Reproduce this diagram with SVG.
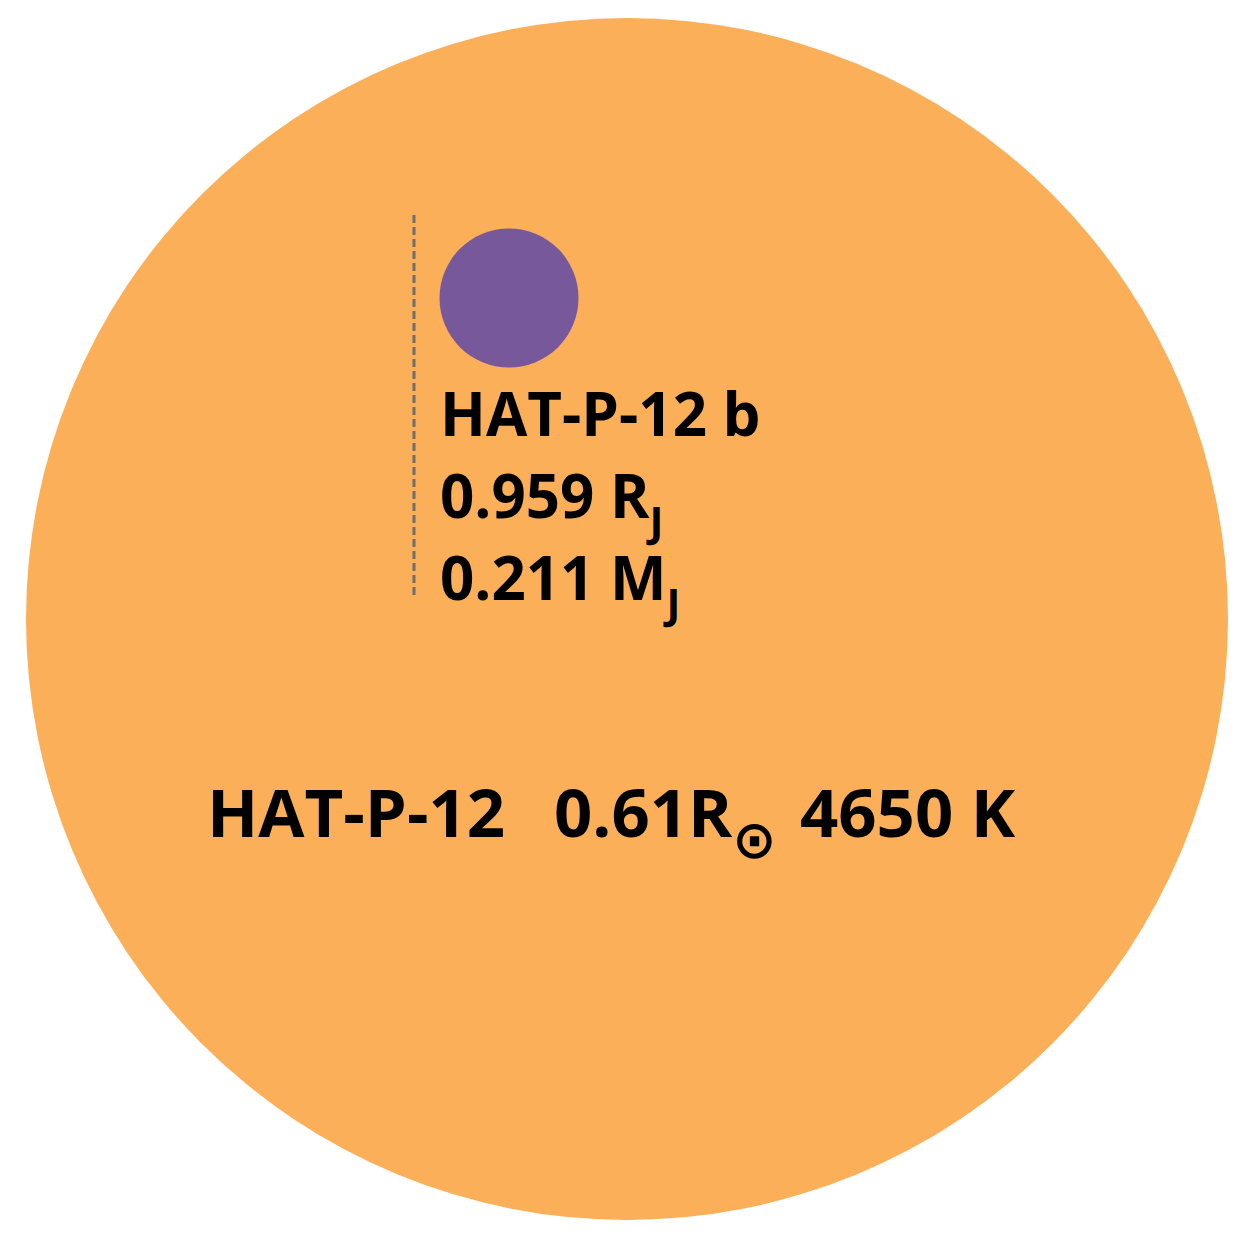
<svg xmlns="http://www.w3.org/2000/svg" width="1260" height="1243" viewBox="0 0 1260 1243">
<style>
text{font-family:"Open Sans","DejaVu Sans",sans-serif;font-weight:bold;fill:#000}
.pl{font-size:60px}
.st{font-size:67px}
.sub{font-size:42px}
.sun{font-size:53px;font-family:"DejaVu Sans",sans-serif}
</style>
<rect width="1260" height="1243" fill="#fff"/>
<g id="star">
<circle cx="627" cy="619" r="601" fill="#FCAF59"/>
<text class="st" x="207" y="837">HAT-P-12</text>
<text class="st" x="554" y="837">0.61R<tspan class="sun" dy="21">⊙</tspan></text>
<text class="st" x="800" y="837">4650 K</text>
</g>
<g id="connectors">
<line x1="414" y1="215" x2="414" y2="597" stroke="#6f6f6f" stroke-width="3" stroke-dasharray="8,4"/>
</g>
<g id="planet">
<circle cx="509" cy="298" r="69.5" fill="#77589A"/>
<text class="pl" x="440" y="436">HAT-P-12 b</text>
<text class="pl" x="440" y="518">0.959 R<tspan class="sub" dy="19">J</tspan></text>
<text class="pl" x="440" y="600">0.211 M<tspan class="sub" dy="19">J</tspan></text>
</g>
</svg>
